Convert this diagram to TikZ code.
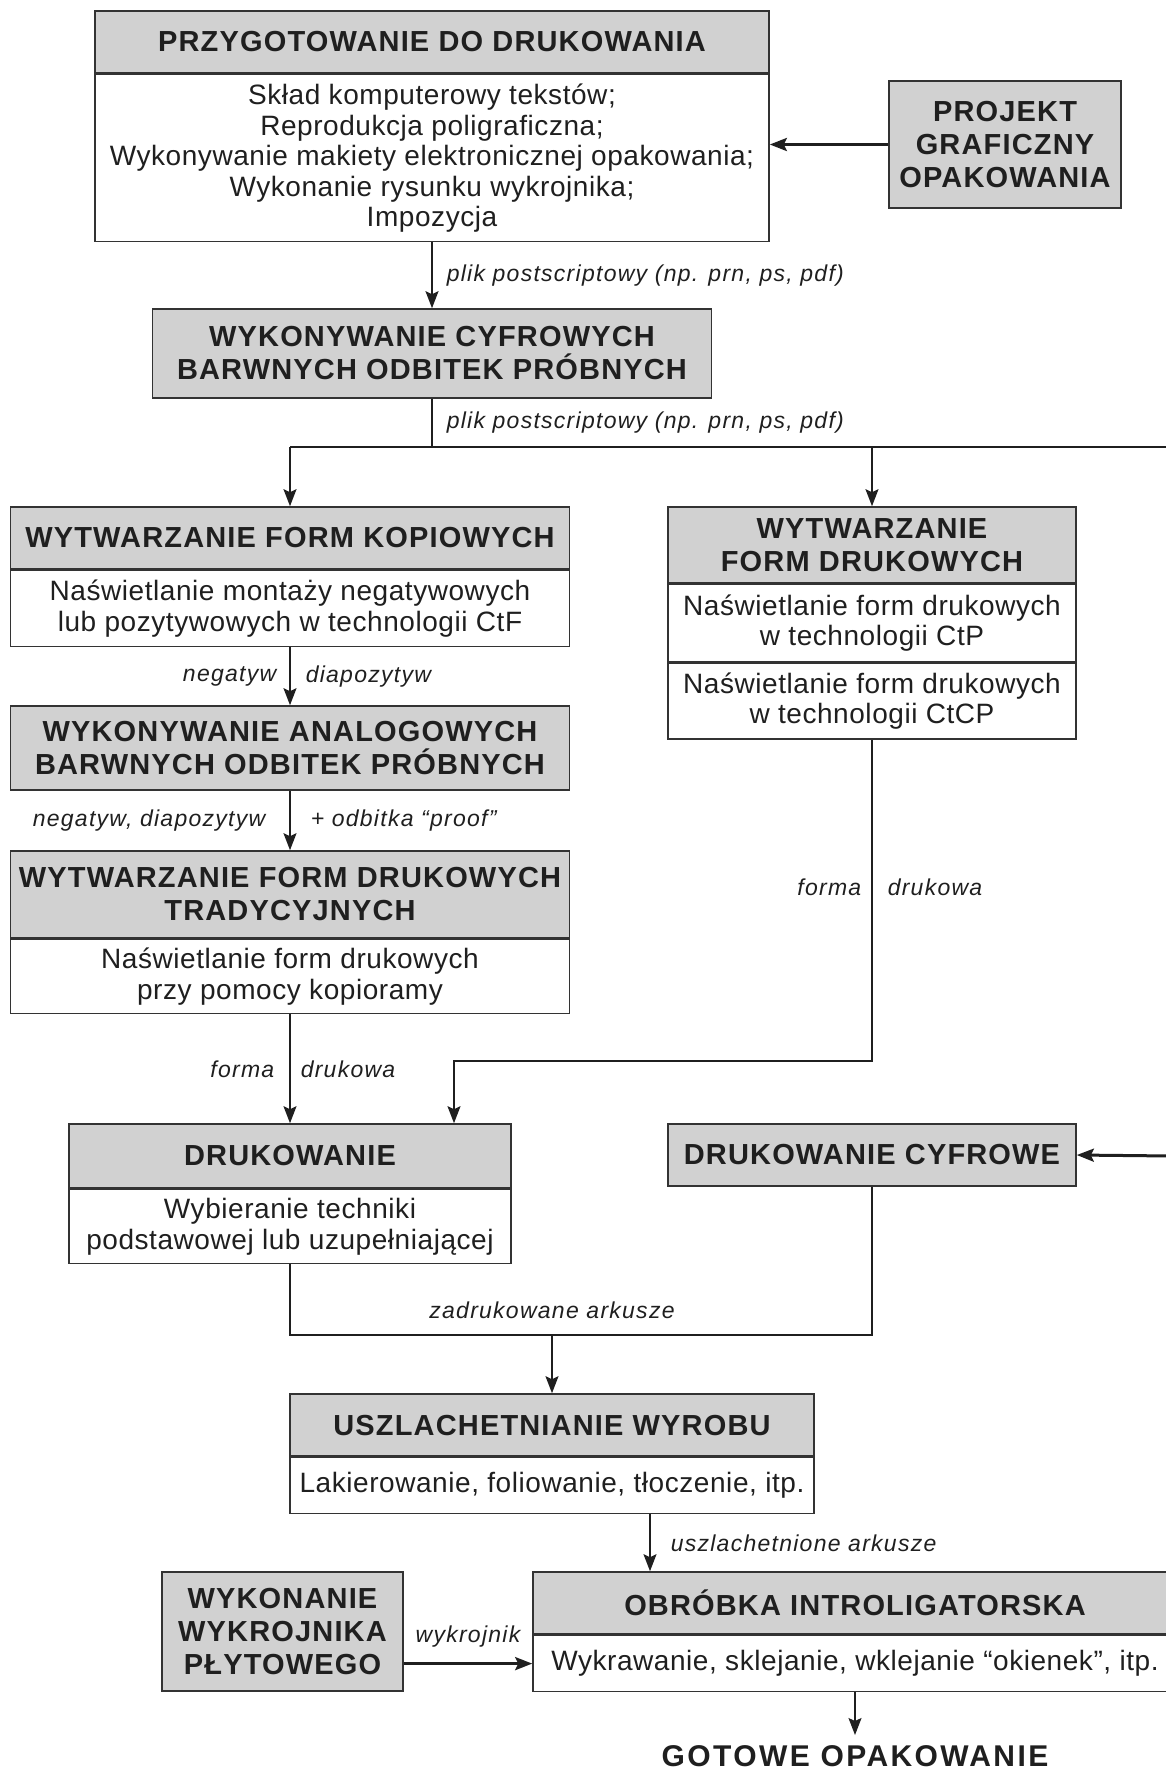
\documentclass[tikz,border=0pt]{standalone}
\usepackage{fontspec}
\setmainfont{Liberation Sans}
\newfontfamily\headfont[LetterSpace=4]{Liberation Sans}
\newfontfamily\bodyfont[LetterSpace=2]{Liberation Sans}
\newfontfamily\lblfont[LetterSpace=5.5]{Liberation Sans}
\newfontfamily\endfont[LetterSpace=8]{Liberation Sans}
\usetikzlibrary{positioning,arrows.meta}
\definecolor{headgray}{gray}{0.82}
\definecolor{edge}{gray}{0.2}
\definecolor{ink}{gray}{0.12}

\tikzset{
  head/.style={draw=edge,fill=headgray,line width=1.6pt,inner sep=0pt,align=center,text=ink,
    font=\headfont\fontsize{29}{33}\selectfont\bfseries},
  body/.style={draw=edge,fill=white,line width=1.6pt,inner sep=0pt,align=center,text=ink,
    font=\bodyfont\fontsize{28}{30.5}\selectfont},
  lbl/.style={inner sep=0pt,text=ink,font=\lblfont\itshape\fontsize{23}{26}\selectfont},
  line/.style={draw=ink,line width=1.5pt},
  arr/.style={line,-{Stealth[length=17pt,width=13pt,inset=3pt]}},
  bigarr/.style={arr,line width=3pt},
}

\begin{document}
\begin{tikzpicture}[x=1pt,y=-1pt]
\useasboundingbox (0,0) rectangle (1165,1770);

% przygotowanie
\node[head,minimum width=674pt,minimum height=62pt] (prep) at (432,42) {PRZYGOTOWANIE DO DRUKOWANIA};
\node[body,minimum width=674pt,minimum height=167pt,below=0pt of prep] (prepb) {Skład komputerowy tekstów;\\Reprodukcja poligraficzna;\\Wykonywanie makiety elektronicznej opakowania;\\Wykonanie rysunku wykrojnika;\\Impozycja};
\node[head,minimum width=232pt,minimum height=127pt] (proj) at (1005,144.5) {PROJEKT\\GRAFICZNY\\OPAKOWANIA};
\node[head,minimum width=559pt,minimum height=89pt] (cyfr) at (432,353.5) {WYKONYWANIE CYFROWYCH\\BARWNYCH ODBITEK PRÓBNYCH};

% lewa kolumna
\node[head,minimum width=559pt,minimum height=62pt] (kop) at (290,538) {WYTWARZANIE FORM KOPIOWYCH};
\node[body,minimum width=559pt,minimum height=76pt,below=0pt of kop] (kopb) {Naświetlanie montaży negatywowych\\lub pozytywowych w technologii CtF};
\node[head,minimum width=559pt,minimum height=84pt] (analog) at (290,748) {WYKONYWANIE ANALOGOWYCH\\BARWNYCH ODBITEK PRÓBNYCH};
\node[head,minimum width=559pt,minimum height=87pt] (trad) at (290,894.5) {WYTWARZANIE FORM DRUKOWYCH\\TRADYCYJNYCH};
\node[body,minimum width=559pt,minimum height=74pt,below=0pt of trad] (tradb) {Naświetlanie form drukowych\\przy pomocy kopioramy};
\node[head,minimum width=442pt,minimum height=64pt] (druk) at (290,1156) {DRUKOWANIE};
\node[body,minimum width=442pt,minimum height=74pt,below=0pt of druk] (drukb) {Wybieranie techniki\\podstawowej lub uzupełniającej};

% prawa kolumna
\node[head,minimum width=408pt,minimum height=76pt] (form) at (872,545) {WYTWARZANIE\\FORM DRUKOWYCH};
\node[body,minimum width=408pt,minimum height=77pt,below=0pt of form] (formctp) {Naświetlanie form drukowych\\w technologii CtP};
\node[body,minimum width=408pt,minimum height=76pt,below=0pt of formctp] (formctcp) {Naświetlanie form drukowych\\w technologii CtCP};
\node[head,minimum width=408pt,minimum height=62pt] (dcyfr) at (872,1155) {DRUKOWANIE CYFROWE};

% wykonczenie
\node[head,minimum width=524pt,minimum height=62pt] (uszl) at (552,1425) {USZLACHETNIANIE WYROBU};
\node[body,minimum width=524pt,minimum height=56pt,below=0pt of uszl] (uszlb) {Lakierowanie, foliowanie, tłoczenie, itp.};
\node[head,minimum width=644pt,minimum height=62pt] (obr) at (855,1603) {OBRÓBKA INTROLIGATORSKA};
\node[body,minimum width=644pt,minimum height=56pt,below=0pt of obr] (obrb) {Wykrawanie, sklejanie, wklejanie “okienek”, itp.};
\node[head,minimum width=241pt,minimum height=119pt] (wykr) at (282.5,1631.5) {WYKONANIE\\WYKROJNIKA\\PŁYTOWEGO};
\node[inner sep=0pt,anchor=north,text=ink,font=\endfont\bfseries\fontsize{30}{34}\selectfont] (gotowe) at (855,1745) {GOTOWE OPAKOWANIE};

\coordinate (split) at (432,447);
\coordinate (rimA) at (1172,447);
\coordinate (rimB) at (1172,1156);
\coordinate (bend) at (454,1061);
\coordinate (join) at (552,1335);
\coordinate (usx) at (650,0);

\draw[bigarr] (proj.west) -- (proj.west -| prepb.east);
\draw[arr] (prepb.south) -- node[lbl,right=14pt] (l1) {plik postscriptowy (np. prn, ps, pdf)} (cyfr.north);
\draw[line] (cyfr.south) -- node[lbl,right=14pt] (l2) {plik postscriptowy (np. prn, ps, pdf)} (split);
\draw[line,line width=2pt] (kop.north |- split) -- (rimA);
\draw[arr] (kop.north |- split) -- (kop.north);
\draw[arr] (form.north |- split) -- (form.north);

\draw[arr] (kopb.south) -- node[lbl,left=13pt] (l3) {negatyw} node[lbl,right=15pt] (l4) {diapozytyw} (analog.north);
\draw[arr] (analog.south) -- node[lbl,left=24pt] (l5) {negatyw, diapozytyw} node[lbl,right=20pt] (l6) {+ odbitka “proof”} (trad.north);
\draw[arr] (tradb.south) -- node[lbl,left=15pt] (l7) {forma} node[lbl,right=10pt] (l8) {drukowa} (druk.north);
\draw[arr] (formctcp.south) -- node[pos=0.46,lbl,left=10pt] (l9) {forma} node[pos=0.46,lbl,right=15pt] (l10) {drukowa} (formctcp.south |- bend) -- (bend) -- (bend |- druk.north);

\draw[bigarr] (rimB) -- (dcyfr.east);
\draw[line] (drukb.south) |- (join) -| (dcyfr.south);
\node[lbl,above=16pt of join] (l11) {zadrukowane arkusze};
\draw[arr] (join) -- (uszl.north);
\draw[arr] (uszlb.south -| usx) -- node[lbl,right=20pt] (l12) {uszlachetnione arkusze} (obr.north -| usx);
\draw[bigarr] (wykr.east |- obrb.west) -- node[lbl,above=15pt] (l13) {wykrojnik} (obrb.west);
\draw[arr,shorten >=10pt] (obrb.south) -- (gotowe.north);
\end{tikzpicture}
\end{document}
